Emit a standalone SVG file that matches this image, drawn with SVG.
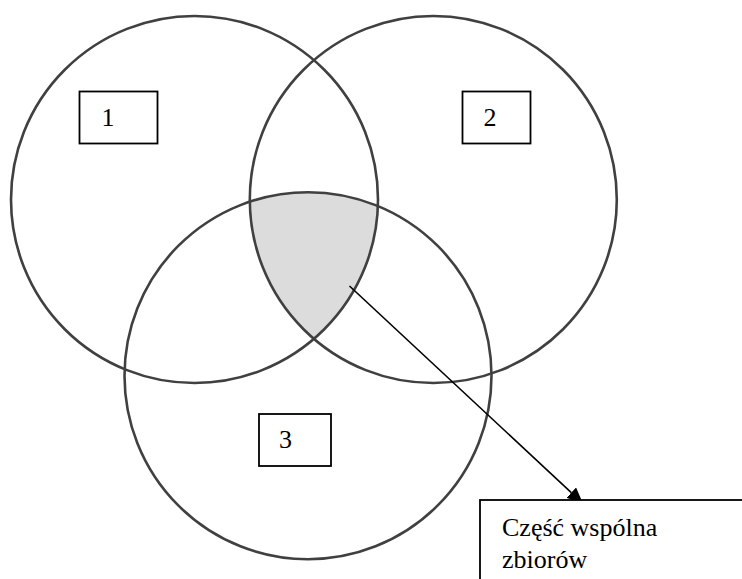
<svg xmlns="http://www.w3.org/2000/svg" width="742" height="579" viewBox="0 0 742 579">
<style>
.set{fill:none;stroke:#404040;stroke-width:2.6}
.box{fill:#fff;stroke:#000;stroke-width:1.8}
.lbl{font-family:"Liberation Serif","Times New Roman",serif;font-size:26px;fill:#000}
.conn{stroke:#000;stroke-width:1.6;fill:none}
</style>
<defs>
<clipPath id="c1"><circle cx="194.5" cy="199.5" r="183.5"/></clipPath>
<clipPath id="c2"><circle cx="433.3" cy="199.5" r="183.5"/></clipPath>
<marker id="arr" markerUnits="userSpaceOnUse" viewBox="0 -7 16 14" markerWidth="16" markerHeight="14" refX="0" refY="0" orient="auto">
<path d="M0,-7 L16,0 L0,7 z" fill="#000"/>
</marker>
</defs>
<rect width="742" height="579" fill="#fff"/>
<g id="intersection" clip-path="url(#c1)">
<circle cx="308" cy="375.7" r="183.5" fill="#dcdcdc" clip-path="url(#c2)"/>
</g>
<g id="set1">
<circle class="set" cx="194.5" cy="199.5" r="183.5"/>
<rect class="box" x="79.5" y="91.5" width="78" height="52"/>
<text class="lbl" x="108" y="126" text-anchor="middle">1</text>
</g>
<g id="set2">
<circle class="set" cx="433.3" cy="199.5" r="183.5"/>
<rect class="box" x="462.5" y="91.5" width="68" height="52"/>
<text class="lbl" x="490" y="126" text-anchor="middle">2</text>
</g>
<g id="set3">
<circle class="set" cx="308" cy="375.7" r="183.5"/>
<rect class="box" x="259" y="414" width="72" height="52"/>
<text class="lbl" x="285.5" y="448" text-anchor="middle">3</text>
</g>
<g id="connectors">
<line class="conn" x1="349.5" y1="286" x2="571.3" y2="492.6" marker-end="url(#arr)"/>
</g>
<g id="callout">
<rect class="box" x="480" y="500" width="280" height="100"/>
<text class="lbl" x="502" y="536">Część wspólna</text>
<text class="lbl" x="502" y="567.5">zbiorów</text>
</g>
</svg>
